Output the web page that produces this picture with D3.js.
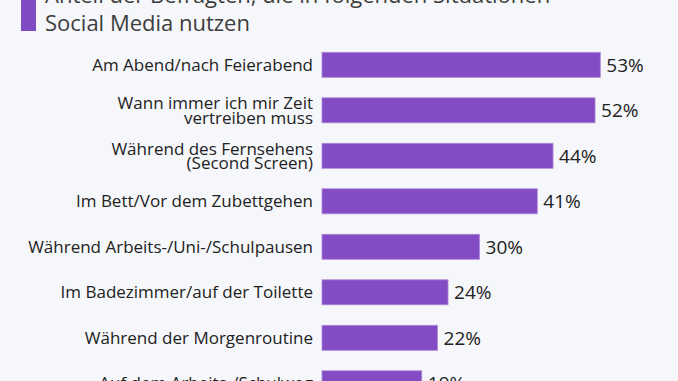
<!DOCTYPE html>
<meta charset="utf-8">
<style>
body { margin: 0; background: #f5f7fa; }
svg { display: block; font-family: "Open Sans", sans-serif; }
</style>
<svg width="678" height="381"></svg>
<script src="https://cdn.jsdelivr.net/npm/d3@7"></script>
<script>

// Situationen (Labels, teils zweizeilig)
var situations = [
  ["Am Abend/nach Feierabend"],
  ["Wann immer ich mir Zeit", "vertreiben muss"],
  ["Während des Fernsehens", "(Second Screen)"],
  ["Im Bett/Vor dem Zubettgehen"],
  ["Während Arbeits-/Uni-/Schulpausen"],
  ["Im Badezimmer/auf der Toilette"],
  ["Während der Morgenroutine"],
  ["Auf dem Arbeits-/Schulweg"]
];
var shares = [53, 52, 44, 41, 30, 24, 22, 19];
var titleLines = ["Anteil der Befragten, die in folgenden Situationen", "Social Media nutzen"];

var svg = d3.select("svg"),
    width = +svg.attr("width"),
    height = +svg.attr("height");

var purple = "#844cc4";

svg.append("rect")
    .attr("width", width)
    .attr("height", height)
    .attr("fill", "#f5f7fa");

// Titel mit Markierung
svg.append("rect")
    .attr("x", 21).attr("y", -30)
    .attr("width", 15).attr("height", 61)
    .attr("fill", "#7f4bc2");

svg.append("g").selectAll("text")
    .data(titleLines)
  .enter().append("text")
    .attr("x", 45)
    .attr("y", function(d, i) { return 3 + i * 28; })
    .attr("font-size", 22)
    .attr("fill", "#3d3d3d")
    .text(function(d) { return d; });

var idx = d3.range(shares.length);

var y = d3.scaleBand()
    .domain(idx)
    .range([52.3, 395.8])
    .paddingInner(0.45)
    .paddingOuter(0);

var x = d3.scaleLinear()
    .domain([0, 53])
    .range([322, 600.3]);

var rows = svg.append("g").selectAll("g")
    .data(idx)
  .enter().append("g");

rows.append("rect")
    .attr("x", x(0))
    .attr("y", function(i) { return y(i); })
    .attr("width", function(i) { return x(shares[i]) - x(0); })
    .attr("height", y.bandwidth())
    .attr("fill", purple)
    .attr("stroke", "#b08ad9")
    .attr("stroke-width", 0.8);

rows.append("text")
    .attr("x", function(i) { return x(shares[i]) + 6; })
    .attr("y", function(i) { return y(i) + y.bandwidth() / 2; })
    .attr("dy", "0.36em")
    .attr("font-size", 19)
    .attr("fill", "#222")
    .text(function(i) { return shares[i] + "%"; });

var lab = rows.append("text")
    .attr("text-anchor", "end")
    .attr("font-size", 17)
    .attr("fill", "#222");

lab.each(function(i) {
  var lines = situations[i];
  var cy = y(i) + y.bandwidth() / 2;
  var lh = 14.5;
  d3.select(this).selectAll("tspan")
      .data(lines)
    .enter().append("tspan")
      .attr("x", 313)
      .attr("y", function(d, j) { return cy + (j - (lines.length - 1) / 2) * lh; })
      .attr("dy", "0.36em")
      .text(function(d) { return d; });
});

</script>
